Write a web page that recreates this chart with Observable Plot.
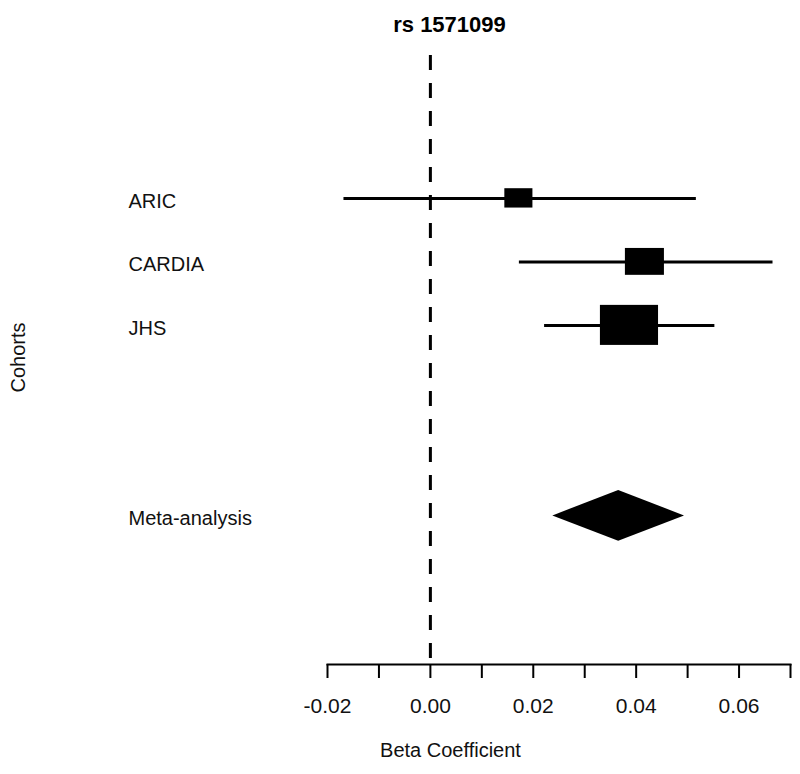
<!DOCTYPE html>
<html>
<head>
<meta charset="utf-8">
<script src="https://cdn.jsdelivr.net/npm/d3@7"></script>
<script src="https://cdn.jsdelivr.net/npm/@observablehq/plot@0.6"></script>
<style>
  html, body { margin: 0; padding: 0; background: #fff; }
  svg { display: block; }
</style>
</head>
<body>
<div id="chart"></div>
<script>
// ---- data ----
const title = "rs 1571099";
const cohorts = ["ARIC", "CARDIA", "JHS"];
const cohortRow = [1, 2, 3];
const estimate = [0.0172, 0.0417, 0.0387];
const lower = [-0.0168, 0.0173, 0.0222];
const upper = [0.0517, 0.0666, 0.0553];

const metaLabel = "Meta-analysis";
const metaRow = 6;
const metaEstimate = 0.0366;
const metaLower = 0.0238;
const metaUpper = 0.0494;

const xTicks = [-0.02, -0.01, 0.00, 0.01, 0.02, 0.03, 0.04, 0.05, 0.06, 0.07];
const xTickLabels = ["-0.02", "", "0.00", "", "0.02", "", "0.04", "", "0.06", ""];
const xLabel = "Beta Coefficient";
const yLabel = "Cohorts";

// ---- build tables ----
const studies = cohorts.map((name, i) => {
  const se = (upper[i] - lower[i]) / 3.92;
  return {name, row: cohortRow[i], est: estimate[i], lo: lower[i], hi: upper[i], prec: 1 / se};
});
const boxK = 0.0000477;      // half-width (data units) per unit of 1/se
const boxAspect = 55.8;      // y units per x unit for box half-height
const boxes = studies.map(d => {
  const hw = boxK * d.prec;
  return {...d, x1: d.est - hw, x2: d.est + hw, y1: d.row - hw * boxAspect, y2: d.row + hw * boxAspect};
});
const dH = 0.4;
const diamond = [
  {x: metaLower, y1: metaRow, y2: metaRow},
  {x: metaEstimate, y1: metaRow - dH, y2: metaRow + dH},
  {x: metaUpper, y1: metaRow, y2: metaRow}
];
const labels = studies.map(d => ({name: d.name, row: d.row})).concat([{name: metaLabel, row: metaRow}]);

const font = "'Liberation Sans', Arial, Helvetica, sans-serif";

const chart = Plot.plot({
  width: 800,
  height: 774,
  marginLeft: 327,
  marginRight: 10,
  marginTop: 55,
  marginBottom: 110,
  style: {fontFamily: font, color: "#000", background: "#fff"},
  x: {domain: [-0.02, 0.07]},
  y: {domain: [-1.25, 8.34], reverse: true, axis: null},
  marks: [
    Plot.ruleX([0], {stroke: "#000", strokeWidth: 3, strokeDasharray: "15,13"}),
    Plot.ruleY(studies, {y: "row", x1: "lo", x2: "hi", stroke: "#000", strokeWidth: 3}),
    Plot.rect(boxes, {x1: "x1", x2: "x2", y1: "y1", y2: "y2", fill: "#000"}),
    Plot.areaY(diamond, {x: "x", y1: "y1", y2: "y2", fill: "#000", curve: "linear"}),
    Plot.text(labels, {y: "row", text: "name", frameAnchor: "left", textAnchor: "start", dx: -199, dy: 3, fontSize: 20, fill: "#111"}),
    Plot.frame({anchor: "bottom", stroke: "#000", strokeWidth: 2}),
    Plot.axisX({
      ticks: xTicks,
      tickFormat: (d, i) => xTickLabels[i],
      tickSize: 14,
      tickPadding: 20,
      fontSize: 21,
      strokeWidth: 2,
      stroke: "#000",
      fill: "#111",
      label: null
    }),
    Plot.text([title], {frameAnchor: "top", dx: -109.5, dy: -39, fontSize: 22, fontWeight: "bold", fill: "#000"}),
    Plot.text([xLabel], {frameAnchor: "bottom", dx: -108.5, dy: 92, fontSize: 20, fill: "#111"}),
    Plot.text([yLabel], {frameAnchor: "left", textAnchor: "middle", dx: -309, dy: -2.5, rotate: -90, fontSize: 20, fill: "#111"})
  ]
});
document.getElementById("chart").appendChild(chart);
</script>
</body>
</html>
